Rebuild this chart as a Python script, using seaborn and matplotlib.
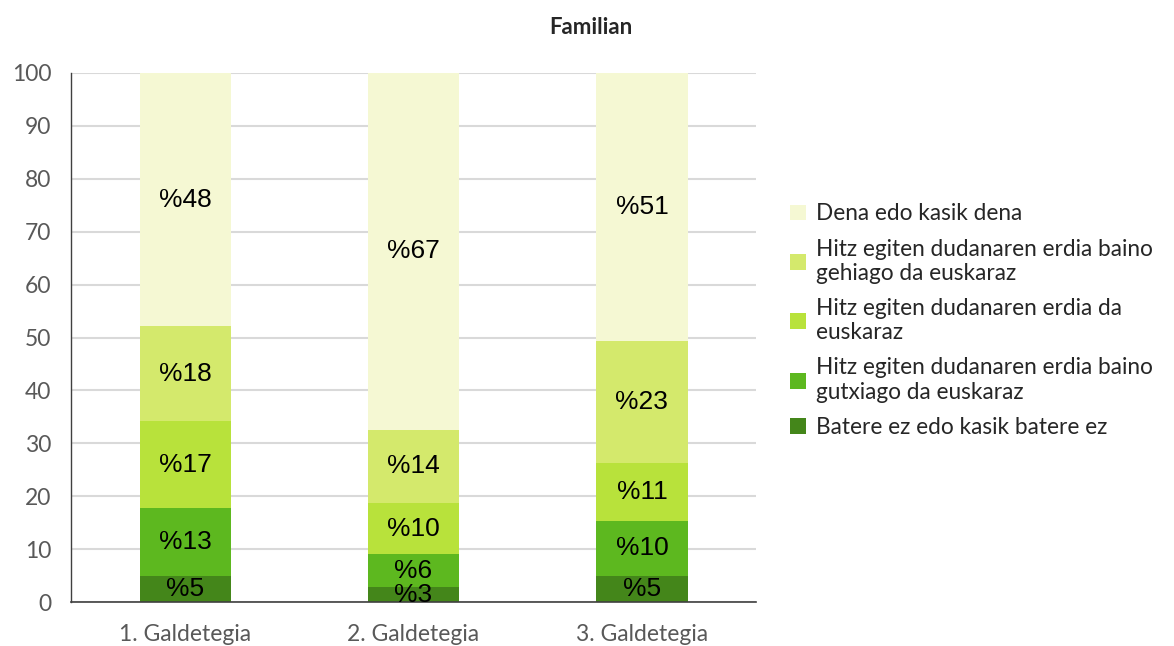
import numpy as np
import pandas as pd
import matplotlib
matplotlib.use('Agg')
import matplotlib.pyplot as plt
import seaborn as sns

# Data
surveys = ['1. Galdetegia', '2. Galdetegia', '3. Galdetegia']
categories = [
    'Batere ez edo kasik batere ez',
    'Hitz egiten dudanaren erdia baino\ngutxiago da euskaraz',
    'Hitz egiten dudanaren erdia da\neuskaraz',
    'Hitz egiten dudanaren erdia baino\ngehiago da euskaraz',
    'Dena edo kasik dena',
]
batere_ez = [5.0, 2.8, 5.0]
gutxiago = [12.7, 6.2, 10.4]
erdia = [16.6, 9.8, 10.8]
gehiago = [17.8, 13.8, 23.1]
dena = [47.9, 67.4, 50.7]
series = [batere_ez, gutxiago, erdia, gehiago, dena]
colors = ['#44861a', '#5db81f', '#b8e23b', '#d4e96c', '#f5f8d3']

sns.set_style('white')
plt.rcParams['font.family'] = ['Lato', 'DejaVu Sans']

fig = plt.figure(figsize=(11.74, 6.46), dpi=100)
ax = fig.add_axes([0.0605, 0.068, 0.5835, 0.819])

bottom = np.zeros(len(surveys))
for cat, vals, col in zip(categories, series, colors):
    df = pd.DataFrame({'survey': surveys, 'value': vals})
    sns.barplot(data=df, x='survey', y='value', color=col, width=0.4,
                bottom=bottom, label=cat, ax=ax, saturation=1, linewidth=0)
    bar = ax.containers[-1]
    ax.bar_label(bar, labels=['%' + str(int(round(v))) for v in vals],
                 label_type='center', fontsize=19, color='black',
                 family='Liberation Sans')
    bottom = bottom + np.array(vals)

ax.set_ylim(0, 100)
ax.set_yticks(range(0, 101, 10))
ax.set_xlim(-0.5, 2.5)
ax.grid(axis='y', color='#d9d9d9', linewidth=1.5)
ax.set_axisbelow(True)
ax.set_xlabel('')
ax.set_ylabel('')
for s in ['top', 'right']:
    ax.spines[s].set_visible(False)
ax.spines['left'].set_color('#404040')
ax.spines['bottom'].set_color('#404040')
ax.spines['left'].set_linewidth(1.0)
ax.spines['bottom'].set_linewidth(1.2)
ax.tick_params(axis='both', length=0, labelsize=16.5, labelcolor='#595959')
ax.tick_params(axis='x', pad=16)
ax.tick_params(axis='y', pad=14)

fig.text(0.503, 0.958, 'Familian', ha='center', va='center',
         fontsize=16, fontweight='bold')

handles, labels = ax.get_legend_handles_labels()
ax.legend(handles[::-1], labels[::-1], loc='upper left',
          bbox_to_anchor=(0.673, 0.685), bbox_transform=fig.transFigure,
          frameon=False, fontsize=16.3, handlelength=0.7, handleheight=0.7,
          handletextpad=0.45, labelspacing=0.62, borderaxespad=0, borderpad=0)

fig.savefig('out.png', dpi=100)
